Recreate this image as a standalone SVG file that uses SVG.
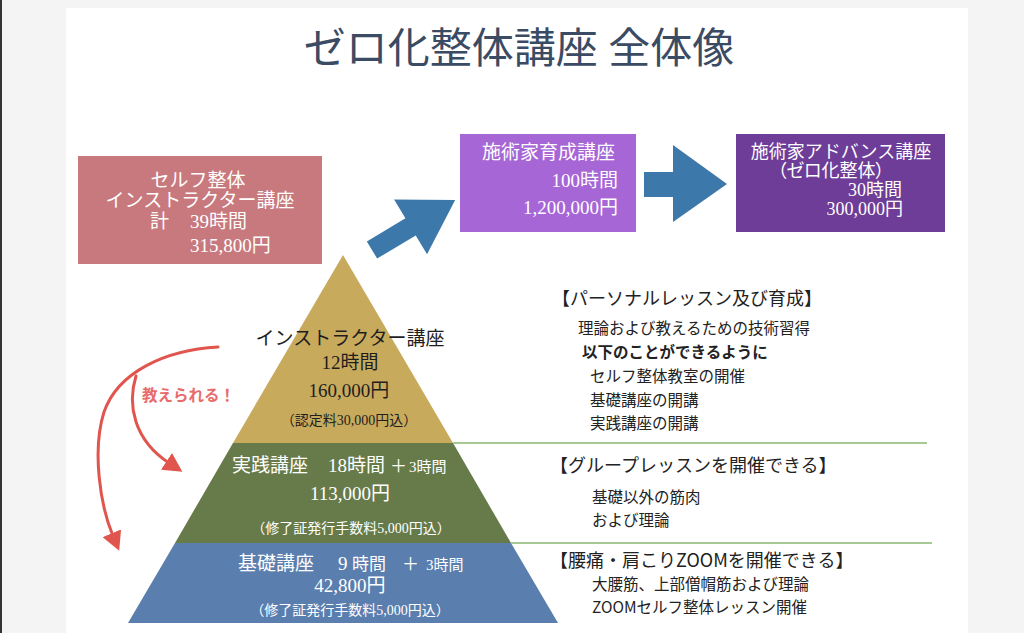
<svg xmlns="http://www.w3.org/2000/svg" width="1024" height="633" viewBox="0 0 1024 633">
<defs>
<style>
.mincho{font-family:"Liberation Serif","Noto Sans CJK JP",serif;}
.sans{font-family:"Noto Sans CJK JP","Liberation Sans",sans-serif;}
.w{fill:#ffffff;}
.k{fill:#1e1e1e;}
.box{font-size:19px;}
.box2{font-size:18px;}
.rt{font-size:15.5px;fill:#222222;}
.hd{font-size:18px;fill:#222222;}
.pal{font-feature-settings:"palt";}
</style>
<marker id="redhead" viewBox="0 0 20 20" refX="3" refY="10" markerWidth="20" markerHeight="20" markerUnits="userSpaceOnUse" orient="auto">
<path d="M0,0 L19,10 L0,20 z" fill="#e0564f"/>
</marker>
</defs>
<rect x="0" y="0" width="1024" height="633" fill="#f4f4f4"/>
<rect x="66" y="8" width="902" height="625" fill="#ffffff"/>
<rect x="0" y="0" width="2" height="633" fill="#333333"/>

<g id="title">
<text class="mincho" x="519" y="63" font-size="42" fill="#3b4b63" text-anchor="middle">ゼロ化整体講座 全体像</text>
</g>

<g id="self-instructor-box">
<rect x="78" y="156" width="244" height="108" fill="#c8797d"/>
<text class="mincho box w" x="198" y="187" text-anchor="middle">セルフ整体</text>
<text class="mincho box w" x="200" y="207" text-anchor="middle">インストラクター講座</text>
<text class="mincho box w" y="228"><tspan x="150">計</tspan><tspan x="190">39時間</tspan></text>
<text class="mincho box w" x="190" y="252">315,800円</text>
</g>

<g id="practitioner-box">
<rect x="460" y="134" width="176" height="98" fill="#a766d6"/>
<text class="mincho box w" x="482" y="159">施術家育成講座</text>
<text class="mincho box w" x="618" y="187" text-anchor="end">100時間</text>
<text class="mincho box w" x="618" y="214" text-anchor="end">1,200,000円</text>
</g>

<g id="advance-box">
<rect x="736" y="134" width="209" height="98" fill="#6e3d97"/>
<text class="mincho box2 w" x="841" y="158" text-anchor="middle" font-size="19">施術家アドバンス講座</text>
<text class="mincho box2 w pal" x="831" y="177" text-anchor="middle">（ゼロ化整体）</text>
<text class="mincho box2 w" x="902" y="196" text-anchor="end">30時間</text>
<text class="mincho box2 w" x="903" y="215" text-anchor="end">300,000円</text>
</g>

<g id="pyramid">
<g id="instructor-tier">
<polygon points="343,255 453,443 233,443" fill="#c8aa5d"/>
<text class="mincho k" x="350" y="345" font-size="19" text-anchor="middle">インストラクター講座</text>
<text class="mincho k" x="350" y="369" font-size="19" text-anchor="middle">12時間</text>
<text class="mincho k" x="349" y="397" font-size="19" text-anchor="middle">160,000円</text>
<text class="mincho k" x="349" y="425" font-size="14" text-anchor="middle">（認定料30,000円込）</text>
</g>
<g id="practice-tier">
<polygon points="233,443 453,443 511,543 175,543" fill="#677b4a"/>
<text class="mincho w" y="472" font-size="19"><tspan x="232">実践講座</tspan><tspan x="328">18時間</tspan><tspan x="390" font-size="17">＋</tspan><tspan x="409" font-size="15">3時間</tspan></text>
<text class="mincho w" x="350" y="500" font-size="19" text-anchor="middle">113,000円</text>
<text class="mincho w" x="351" y="533" font-size="14" text-anchor="middle">（修了証発行手数料5,000円込）</text>
</g>
<g id="basic-tier">
<polygon points="175,543 511,543 558,623 128,623" fill="#5a7eae"/>
<text class="mincho w" y="570" font-size="19"><tspan x="238">基礎講座</tspan><tspan x="338">9</tspan><tspan x="352" font-size="17">時間</tspan><tspan x="402" font-size="17">＋</tspan><tspan x="426" font-size="15">3時間</tspan></text>
<text class="mincho w" x="350" y="592" font-size="19" text-anchor="middle">42,800円</text>
<text class="mincho w" x="350" y="615" font-size="14" text-anchor="middle">（修了証発行手数料5,000円込）</text>
</g>
</g>

<g id="dividers" stroke="#a6c996" stroke-width="2">
<line x1="453" y1="443" x2="927" y2="443"/>
<line x1="511" y1="543" x2="932" y2="543"/>
</g>

<g id="personal-desc">
<text class="sans hd" x="552" y="305">【パーソナルレッスン及び育成】</text>
<text class="sans rt" x="578" y="334">理論および教えるための技術習得</text>
<text class="sans rt" x="582" y="358" font-weight="bold">以下のことができるように</text>
<text class="sans rt" x="590" y="382">セルフ整体教室の開催</text>
<text class="sans rt" x="590" y="406">基礎講座の開講</text>
<text class="sans rt" x="590" y="429">実践講座の開講</text>
</g>

<g id="group-desc">
<text class="sans hd" x="550" y="472" font-size="18.5">【グループレッスンを開催できる】</text>
<text class="sans rt" x="592" y="503">基礎以外の筋肉</text>
<text class="sans rt" x="592" y="526">および理論</text>
</g>

<g id="zoom-desc">
<text class="sans hd" x="550" y="567" font-size="18.5">【腰痛・肩こりZOOMを開催できる】</text>
<text class="sans rt" x="592" y="590">大腰筋、上部僧帽筋および理論</text>
<text class="sans rt" x="592" y="613">ZOOMセルフ整体レッスン開催</text>
</g>

<g id="teach-label">
<text class="sans" x="142" y="401" font-size="15.5" font-weight="bold" fill="#e86b6b">教えられる！</text>
</g>

<g id="connectors">
<g id="arrow-up" transform="translate(372,250) rotate(-31)">
<polygon points="0,-10 45,-10 45,-32 97,0 45,32 45,10 0,10" fill="#3d78ab"/>
</g>
<polygon id="arrow-right" points="644,172 673,172 673,145 727,184 673,222 673,197 644,197" fill="#3d78ab"/>
<path d="M218,347 C165,350 118,372 104,412 C92,450 100,505 113,536" fill="none" stroke="#e0564f" stroke-width="3" stroke-linecap="round" marker-end="url(#redhead)"/>
<path d="M136,376 C127,405 134,440 169,463" fill="none" stroke="#e0564f" stroke-width="3" stroke-linecap="round" marker-end="url(#redhead)"/>
</g>
</svg>
